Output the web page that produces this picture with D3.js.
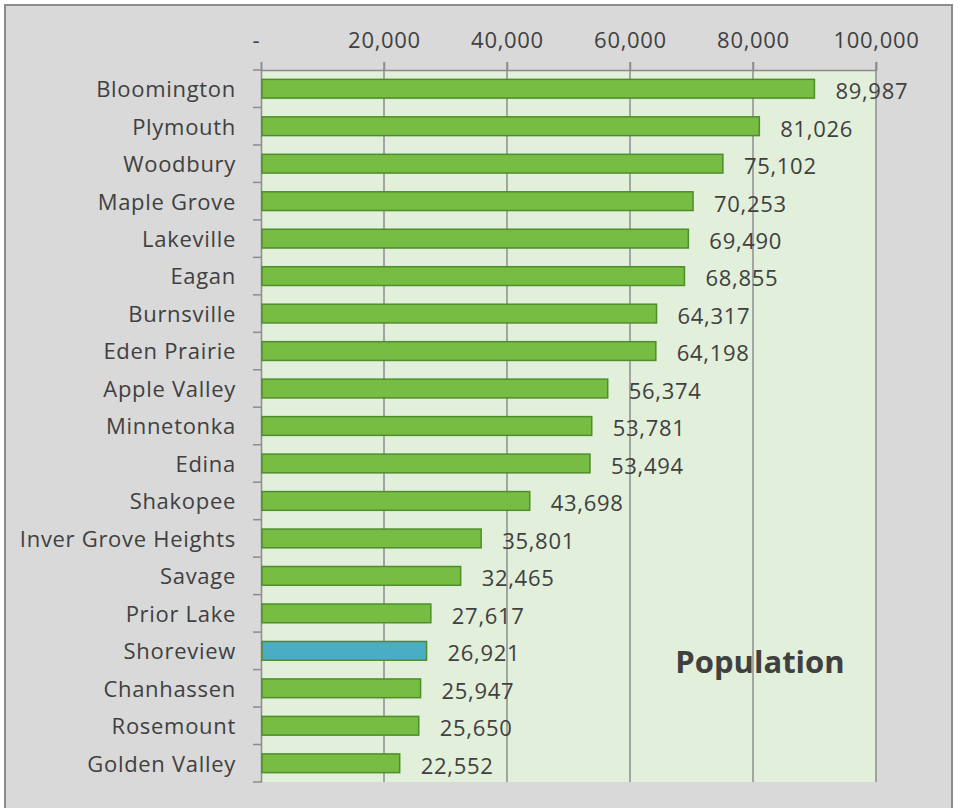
<!DOCTYPE html>
<html><head><meta charset="utf-8">
<script src="https://cdn.jsdelivr.net/npm/d3@7"></script>
<style>html,body{margin:0;padding:0;background:#fff;}</style>
</head><body>
<svg id="c" width="958" height="808"></svg>
<script>
const cities = ["Bloomington","Plymouth","Woodbury","Maple Grove","Lakeville","Eagan","Burnsville","Eden Prairie","Apple Valley","Minnetonka","Edina","Shakopee","Inver Grove Heights","Savage","Prior Lake","Shoreview","Chanhassen","Rosemount","Golden Valley"];
const population = [89987,81026,75102,70253,69490,68855,64317,64198,56374,53781,53494,43698,35801,32465,27617,26921,25947,25650,22552];
const tickValues = [0,20000,40000,60000,80000,100000];
const highlight = "Shoreview";
const chartTitle = "Population";

(function(){
const svg = d3.select("#c");
const font = "'Open Sans', sans-serif";
const textColor = "#404040";
const ls = "0.7px";

svg.append("rect").attr("x",0).attr("y",0).attr("width",958).attr("height",808).attr("fill","#fff");
svg.append("rect").attr("x",5).attr("y",5).attr("width",947).attr("height",810)
  .attr("fill","#d9d9d9").attr("stroke","#8c8c8c").attr("stroke-width",2);

const pL = 261, pR = 876, pT = 70, pB = 782;
const x = d3.scaleLinear().domain([0,100000]).range([pL,pR]);
const y = d3.scaleBand().domain(cities).range([pT,pB]).paddingInner(0.5).paddingOuter(0.25);
const yb = d3.scaleBand().domain(cities).range([pT,pB]);

// plot area
svg.append("rect").attr("x",pL).attr("y",pT).attr("width",pR-pL).attr("height",pB-pT).attr("fill","#e2efda");

// gridlines
svg.append("g").selectAll("line").data(tickValues.slice(1)).join("line")
  .attr("x1",d=>x(d)).attr("x2",d=>x(d)).attr("y1",pT-8).attr("y2",pB)
  .attr("stroke","#8c8c8c").attr("stroke-width",1.5);

// top axis
const fmt = d => d===0 ? "-" : d3.format(",")(d);
const xAxis = d3.axisTop(x).tickValues(tickValues).tickFormat(fmt).tickSize(8).tickPadding(14);
const gx = svg.append("g").attr("transform",`translate(0,${pT})`).call(xAxis);
gx.select(".domain").attr("stroke","#8c8c8c").attr("stroke-width",1.5);
gx.selectAll(".tick line").attr("stroke","#8c8c8c").attr("stroke-width",1.5);
gx.selectAll(".tick text").attr("font-family",font).attr("font-size",22).attr("fill",textColor).style("letter-spacing",ls);
gx.selectAll(".tick text").filter(d=>d===0).attr("dx",-5);

// left axis
const yAxis = d3.axisLeft(yb).tickSize(0).tickPadding(25);
const gy = svg.append("g").attr("transform",`translate(${pL},0)`).call(yAxis);
gy.select(".domain").attr("stroke","#8c8c8c").attr("stroke-width",1.5);
gy.selectAll(".tick text").attr("font-family",font).attr("font-size",22).attr("fill",textColor).attr("dy","0.38em").style("letter-spacing",ls);
// category boundary ticks
svg.append("g").selectAll("line").data(d3.range(cities.length+1)).join("line")
  .attr("x1",pL-8).attr("x2",pL)
  .attr("y1",i=>pT+i*yb.step()).attr("y2",i=>pT+i*yb.step())
  .attr("stroke","#8c8c8c").attr("stroke-width",1.5);

// bars
const data = cities.map((c,i)=>({c, v: population[i]}));
svg.append("g").selectAll("rect").data(data).join("rect")
  .attr("x",x(0)+1).attr("y",d=>y(d.c))
  .attr("width",d=>x(d.v)-x(0)-1).attr("height",y.bandwidth())
  .attr("fill",d=>d.c===highlight?"#4bacc6":"#77bd43")
  .attr("stroke","#4f8d2b").attr("stroke-width",1.5);

// value labels
svg.append("g").selectAll("text").data(data).join("text")
  .attr("x",d=>x(d.v)+21).attr("y",d=>y(d.c)+y.bandwidth()/2+2)
  .attr("dy","0.38em")
  .attr("font-family",font).attr("font-size",22).attr("fill",textColor).style("letter-spacing",ls)
  .text(d=>d3.format(",")(d.v));

// title
svg.append("text").attr("x",760).attr("y",673).attr("text-anchor","middle")
  .attr("font-family",font).attr("font-size",31).attr("font-weight","bold").attr("fill",textColor)
  .text(chartTitle);
})();
</script>
</body></html>
